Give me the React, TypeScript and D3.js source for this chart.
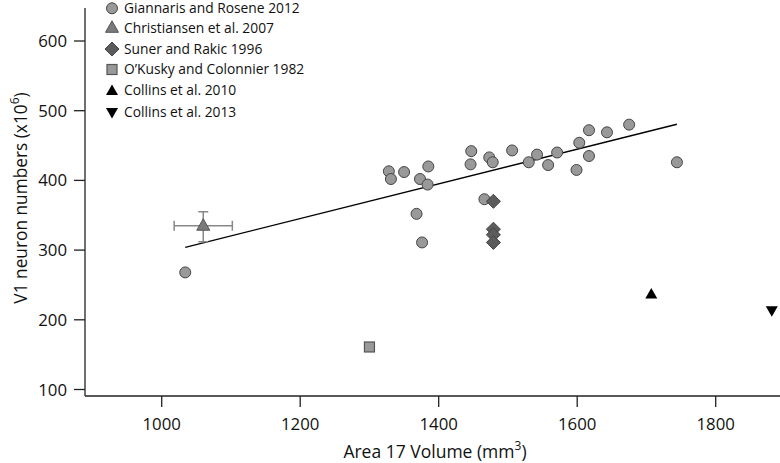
import React from "react";
import * as d3 from "d3";

const xTicks = [1000, 1200, 1400, 1600, 1800];
const yTicks = [100, 200, 300, 400, 500, 600];

const giannarisX = [1034, 1328, 1331, 1350, 1373, 1384, 1385, 1368, 1376, 1447, 1446, 1466, 1473, 1478, 1506, 1530, 1542, 1558, 1571, 1599, 1603, 1617, 1617, 1643, 1675, 1744];
const giannarisY = [268, 413, 402, 412, 402, 394, 420, 352, 311, 442, 423, 373, 433, 426, 443, 426, 437, 422, 440, 415, 454, 472, 435, 469, 480, 426];

const christiansenX = [1060];
const christiansenY = [335];
const christiansenXErr = [1018, 1102];
const christiansenYErr = [312, 355];

const sunerX = [1479, 1479, 1479, 1479];
const sunerY = [370, 330, 322, 311];

const okuskyX = [1300];
const okuskyY = [161];

const collins2010X = [1707];
const collins2010Y = [237];

const collins2013X = [1881];
const collins2013Y = [213];

const fitX = [1034, 1744];
const fitY = [304, 480.5];

const legendLabels = [
  "Giannaris and Rosene 2012",
  "Christiansen et al. 2007",
  "Suner and Rakic 1996",
  "O\u2019Kusky and Colonnier 1982",
  "Collins et al. 2010",
  "Collins et al. 2013",
];

const FONT = "'Open Sans', sans-serif";

function marker(kind: string, cx: number, cy: number, key: string | number) {
  switch (kind) {
    case "circle":
      return <circle key={key} cx={cx} cy={cy} r={5.5} fill="#999" stroke="#444" strokeWidth={1} />;
    case "triUpGray":
      return <path key={key} d={`M${cx},${cy - 7}L${cx + 6.5},${cy + 4.5}L${cx - 6.5},${cy + 4.5}Z`} fill="#7a7a7a" stroke="#555" strokeWidth={1} />;
    case "diamond":
      return <path key={key} d={`M${cx},${cy - 7}L${cx + 7},${cy}L${cx},${cy + 7}L${cx - 7},${cy}Z`} fill="#5c5c5c" stroke="#444" strokeWidth={1} />;
    case "square":
      return <rect key={key} x={cx - 5} y={cy - 5} width={10} height={10} fill="#999" stroke="#555" strokeWidth={1.2} />;
    case "triUp":
      return <path key={key} d={`M${cx},${cy - 6}L${cx + 6},${cy + 4.5}L${cx - 6},${cy + 4.5}Z`} fill="#000" />;
    case "triDown":
      return <path key={key} d={`M${cx},${cy + 6}L${cx + 6},${cy - 4.5}L${cx - 6},${cy - 4.5}Z`} fill="#000" />;
  }
  return null;
}

export default function App() {
  const W = 780, H = 463;
  const x = d3.scaleLinear().domain([1000, 1800]).range([161.7, 715.7]);
  const y = d3.scaleLinear().domain([100, 600]).range([389.5, 41]);
  const axisX = 85, axisY = 396;

  const line = d3.line<number>().x((d) => x(fitX[d])).y((d) => y(fitY[d]));

  const legendKinds = ["circle", "triUpGray", "diamond", "square", "triUp", "triDown"];
  const legendYs = [8.3, 27.8, 49, 69.5, 90.5, 112.5];

  return (
    <svg width={W} height={H} style={{ position: "absolute", left: 0, top: 0, background: "#fff" }} fontFamily={FONT}>
      {/* axes */}
      <line x1={axisX} x2={axisX} y1={8} y2={axisY} stroke="#222" strokeWidth={1.3} />
      <line x1={axisX} x2={W} y1={axisY} y2={axisY} stroke="#222" strokeWidth={1.3} />
      {yTicks.map((t) => (
        <g key={"y" + t}>
          <line x1={axisX - 11} x2={axisX} y1={y(t)} y2={y(t)} stroke="#222" strokeWidth={1.3} />
          <text x={67} y={y(t)} dy="0.36em" textAnchor="end" fontSize={16.8} fill="#111">{t}</text>
        </g>
      ))}
      {xTicks.map((t) => (
        <g key={"x" + t}>
          <line x1={x(t)} x2={x(t)} y1={axisY} y2={axisY + 11} stroke="#222" strokeWidth={1.3} />
          <text x={x(t)} y={430} textAnchor="middle" fontSize={16.8} fill="#111">{t}</text>
        </g>
      ))}
      {/* axis titles */}
      <text x={435} y={458} textAnchor="middle" fontSize={17.5} fill="#111">
        Area 17 Volume (mm<tspan dy={-8} fontSize={12}>3</tspan><tspan dy={8}>)</tspan>
      </text>
      <text transform={`translate(27,198) rotate(-90)`} textAnchor="middle" fontSize={17.3} fill="#111">
        V1 neuron numbers (x10<tspan dy={-8} fontSize={12}>6</tspan><tspan dy={8}>)</tspan>
      </text>

      {/* fit line */}
      <path d={line([0, 1]) || ""} fill="none" stroke="#000" strokeWidth={1.4} />

      {/* Christiansen error bars */}
      <g stroke="#888" strokeWidth={1.5}>
        <line x1={x(christiansenXErr[0])} x2={x(christiansenXErr[1])} y1={y(christiansenY[0])} y2={y(christiansenY[0])} />
        <line x1={x(christiansenXErr[0])} x2={x(christiansenXErr[0])} y1={y(christiansenY[0]) - 5} y2={y(christiansenY[0]) + 5} />
        <line x1={x(christiansenXErr[1])} x2={x(christiansenXErr[1])} y1={y(christiansenY[0]) - 5} y2={y(christiansenY[0]) + 5} />
        <line x1={x(christiansenX[0])} x2={x(christiansenX[0])} y1={y(christiansenYErr[0])} y2={y(christiansenYErr[1])} />
        <line x1={x(christiansenX[0]) - 5} x2={x(christiansenX[0]) + 5} y1={y(christiansenYErr[0])} y2={y(christiansenYErr[0])} />
        <line x1={x(christiansenX[0]) - 5} x2={x(christiansenX[0]) + 5} y1={y(christiansenYErr[1])} y2={y(christiansenYErr[1])} />
      </g>

      {/* points */}
      {giannarisX.map((v, i) => marker("circle", x(v), y(giannarisY[i]), "g" + i))}
      {christiansenX.map((v, i) => marker("triUpGray", x(v), y(christiansenY[i]), "c" + i))}
      {sunerX.map((v, i) => marker("diamond", x(v), y(sunerY[i]), "s" + i))}
      {okuskyX.map((v, i) => marker("square", x(v), y(okuskyY[i]), "o" + i))}
      {collins2010X.map((v, i) => marker("triUp", x(v), y(collins2010Y[i]), "a" + i))}
      {collins2013X.map((v, i) => marker("triDown", x(v), y(collins2013Y[i]), "b" + i))}

      {/* legend */}
      {legendLabels.map((lab, i) => (
        <g key={"l" + i}>
          {marker(legendKinds[i], 112, legendYs[i], "lm" + i)}
          <text x={124} y={legendYs[i]} dy="0.36em" fontSize={13.8} fill="#111">{lab}</text>
        </g>
      ))}
    </svg>
  );
}
